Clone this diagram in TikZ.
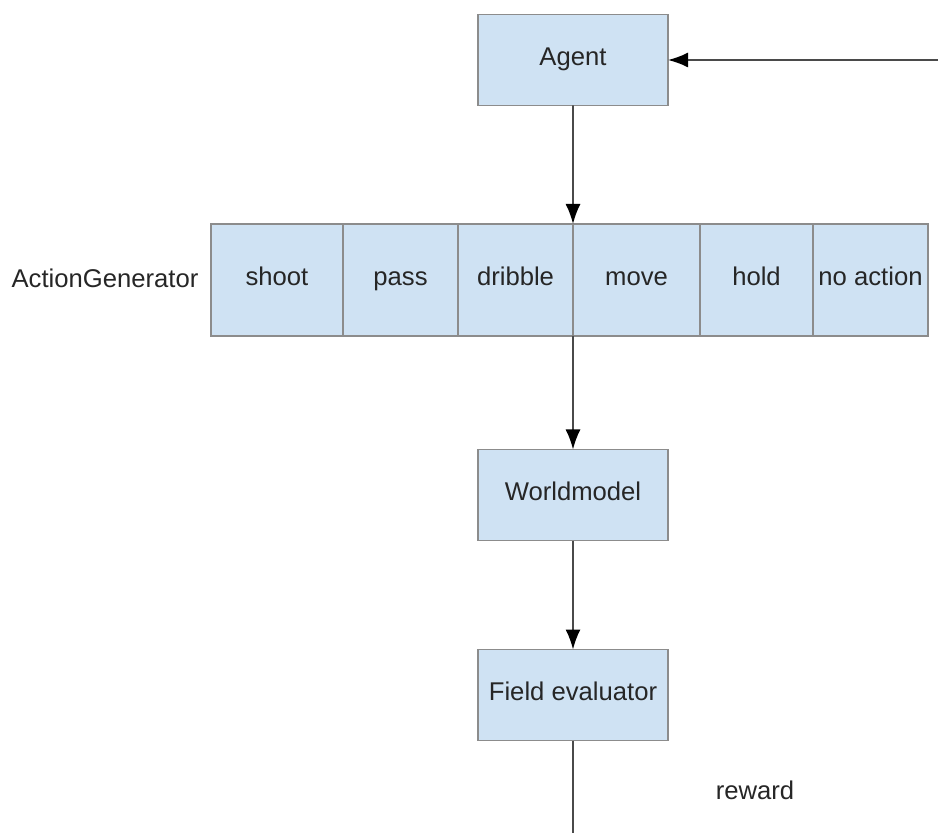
\documentclass[tikz,border=0pt]{standalone}
\usepackage{fontspec}
\setmainfont{Liberation Sans}
\usetikzlibrary{positioning,arrows.meta}
\definecolor{boxblue}{HTML}{CFE2F3}
\definecolor{boxgray}{HTML}{8C8C8C}
\definecolor{linegray}{HTML}{4A4A4A}
\tikzset{
  box/.style={draw=boxgray,fill=boxblue,line width=0.3mm,minimum width=38mm,minimum height=18.2mm,outer sep=0pt,inner sep=0pt,text=black!85,text height=1.5ex,text depth=.25ex},
  cell/.style={box,minimum height=22.4mm},
  lbl/.style={text=black!85},
  arr/.style={-{Latex[length=4mm,width=3mm,color=black]},draw=linegray,line width=0.35mm},
  wire/.style={draw=linegray,line width=0.35mm}
}
\begin{document}
\begin{tikzpicture}[x=0.2mm,y=-0.2mm,font=\fontsize{14.6}{18}\selectfont]
  \useasboundingbox (0,0) rectangle (938,833);
  \node[box] (agent) at (573,60) {Agent};
  \node[cell,minimum width=26.4mm,anchor=west] (shoot) at (211,280) {shoot};
  \node[cell,minimum width=23mm,right=0pt of shoot] (pass) {pass};
  \node[cell,minimum width=23mm,right=0pt of pass] (dribble) {dribble};
  \node[cell,minimum width=25.4mm,right=0pt of dribble] (move) {move};
  \node[cell,minimum width=22.6mm,right=0pt of move] (hold) {hold};
  \node[cell,minimum width=23mm,right=0pt of hold] (noaction) {no action};
  \node[lbl] (gen) at (105,278) {ActionGenerator};
  \node[box] (world) at (573,495) {Worldmodel};
  \node[box] (field) at (573,695) {Field evaluator};
  \node[lbl] (reward) at (755,790) {reward};
  \coordinate (back) at (938,60);
  \coordinate (out) at (573,833);
  \draw[arr] (back) -- (agent);
  \draw[arr] (agent) -- (move.north west);
  \draw[arr] (move.south west) -- (world);
  \draw[arr] (world) -- (field);
  \draw[wire] (field) -- (out);
\end{tikzpicture}
\end{document}
